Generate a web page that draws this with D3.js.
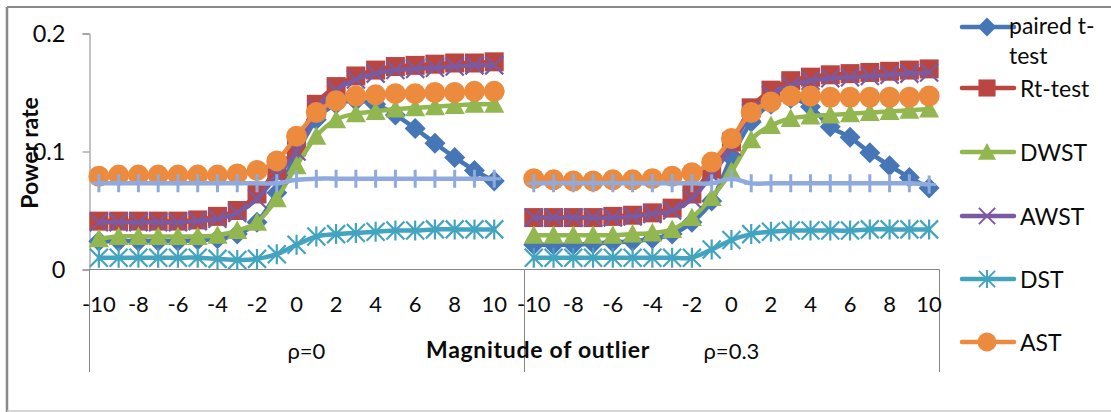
<!DOCTYPE html>
<html>
<head>
<meta charset="utf-8">
<script src="https://cdn.jsdelivr.net/npm/d3@7"></script>
<style>
  html, body { margin: 0; padding: 0; background: #fff; }
  svg { display: block; font-family: Lato, "Open Sans", sans-serif; }
</style>
</head>
<body>
<svg id="chart" width="1111" height="412"></svg>
<script>
// ---------------- DATA ----------------
const magnitudes = [-10,-9,-8,-7,-6,-5,-4,-3,-2,-1,0,1,2,3,4,5,6,7,8,9,10];
const groupLabels = ["ρ=0", "ρ=0.3"];
const tickLabels = ["-10","-8","-6","-4","-2","0","2","4","6","8","10"];
const yTicks = [0, 0.1, 0.2];
const yTickLabels = ["0", "0.1", "0.2"];
const seriesNames = ["paired t-test", "Rt-test", "DWST", "AWST", "DST", "AST", ""];

const pairedT_r0 = [0.024,0.024,0.024,0.024,0.024,0.025,0.026,0.030,0.040,0.065,0.098,0.127,0.140,0.143,0.140,0.131,0.1195,0.107,0.095,0.084,0.075];
const pairedT_r3 = [0.021,0.021,0.021,0.022,0.023,0.024,0.026,0.030,0.040,0.058,0.095,0.125,0.140,0.145,0.138,0.121,0.112,0.099,0.088,0.078,0.069];

const rtTest_r0 = [0.041,0.041,0.041,0.041,0.041,0.042,0.045,0.050,0.064,0.084,0.104,0.140,0.155,0.164,0.169,0.172,0.173,0.174,0.175,0.175,0.176];
const rtTest_r3 = [0.044,0.044,0.044,0.044,0.045,0.046,0.048,0.052,0.064,0.085,0.108,0.137,0.152,0.160,0.163,0.165,0.166,0.167,0.168,0.169,0.170];

const dwst_r0 = [0.026,0.028,0.028,0.028,0.028,0.028,0.029,0.033,0.040,0.060,0.088,0.113,0.127,0.132,0.134,0.136,0.137,0.138,0.139,0.140,0.140];
const dwst_r3 = [0.029,0.029,0.029,0.029,0.029,0.030,0.031,0.034,0.044,0.061,0.083,0.110,0.122,0.128,0.130,0.131,0.132,0.133,0.134,0.135,0.136];

const awst_r0 = [0.040,0.040,0.040,0.040,0.040,0.041,0.043,0.048,0.060,0.080,0.100,0.136,0.152,0.161,0.166,0.169,0.170,0.171,0.172,0.173,0.173];
const awst_r3 = [0.044,0.044,0.044,0.044,0.044,0.045,0.047,0.050,0.060,0.080,0.104,0.133,0.148,0.156,0.160,0.162,0.163,0.164,0.165,0.166,0.167];

const dst_r0 = [0.010,0.010,0.010,0.010,0.010,0.010,0.009,0.008,0.009,0.013,0.021,0.028,0.030,0.031,0.032,0.033,0.033,0.034,0.034,0.034,0.034];
const dst_r3 = [0.010,0.010,0.010,0.010,0.010,0.010,0.010,0.010,0.010,0.017,0.025,0.030,0.032,0.033,0.033,0.033,0.033,0.034,0.034,0.034,0.034];

const ast_r0 = [0.079,0.080,0.080,0.080,0.080,0.080,0.080,0.081,0.084,0.092,0.113,0.133,0.143,0.147,0.148,0.149,0.149,0.150,0.150,0.151,0.151];
const ast_r3 = [0.077,0.076,0.075,0.075,0.076,0.076,0.077,0.079,0.082,0.091,0.111,0.133,0.142,0.147,0.147,0.146,0.146,0.146,0.146,0.146,0.147];

const s7_r0 = [0.073,0.073,0.073,0.073,0.073,0.073,0.073,0.073,0.073,0.073,0.076,0.077,0.077,0.077,0.077,0.077,0.077,0.077,0.077,0.077,0.077];
const s7_r3 = [0.073,0.073,0.073,0.073,0.073,0.073,0.073,0.073,0.073,0.073,0.077,0.073,0.073,0.073,0.073,0.073,0.073,0.073,0.073,0.073,0.072];

// ---------------- STYLE ----------------
const colors = ["#4676B6", "#BA4642", "#93B750", "#7A5AA0", "#43A4C0", "#EC8A3E", "#8FAADC"];
const markers = ["diamond", "square", "triangle", "x", "star", "circle", "plus"];
const valuesBySeries = [
  [pairedT_r0, pairedT_r3],
  [rtTest_r0, rtTest_r3],
  [dwst_r0, dwst_r3],
  [awst_r0, awst_r3],
  [dst_r0, dst_r3],
  [ast_r0, ast_r3],
  [s7_r0, s7_r3]
];

// ---------------- SCALES ----------------
const keys = [];
magnitudes.forEach(m => keys.push("0|" + m));
keys.push("0|blank");
magnitudes.forEach(m => keys.push("1|" + m));

const x = d3.scaleBand().domain(keys).range([89, 939]).paddingInner(0).paddingOuter(0);
const cx = k => x(k) + x.bandwidth() / 2;
const y = d3.scaleLinear().domain([0, 0.2]).range([269.5, 33.5]);

const svg = d3.select("#chart");
const textColor = "#0a0a0a";

// chart border
svg.append("line").attr("x1", 7).attr("x2", 1111).attr("y1", 7).attr("y2", 7).attr("stroke", "#8a8a8a").attr("stroke-width", 2);
svg.append("line").attr("x1", 7).attr("x2", 7).attr("y1", 7).attr("y2", 412).attr("stroke", "#8a8a8a").attr("stroke-width", 2.5);
svg.append("line").attr("x1", 7).attr("x2", 1111).attr("y1", 411).attr("y2", 411).attr("stroke", "#c8c8c8").attr("stroke-width", 1.5);

// Y axis
const yAxis = d3.axisLeft(y).tickValues(yTicks).tickFormat((d, i) => yTickLabels[i]).tickSize(7).tickPadding(17);
const gy = svg.append("g").attr("transform", "translate(89.5,0)").call(yAxis);
gy.select(".domain").attr("stroke", "#868686").attr("stroke-width", 1);
gy.selectAll(".tick line").attr("stroke", "#868686");
gy.selectAll(".tick text").attr("font-size", 23.5).attr("fill", textColor).attr("font-family", "Lato, sans-serif");

// X axis line
svg.append("line").attr("x1", 89).attr("x2", 939.5).attr("y1", y(0)).attr("y2", y(0)).attr("stroke", "#868686");
// group dividers
const dividers = [x("0|-10"), x("1|-10"), 939];
dividers.forEach(d => {
  svg.append("line").attr("x1", Math.round(d) + 0.5).attr("x2", Math.round(d) + 0.5)
    .attr("y1", y(0)).attr("y2", 372).attr("stroke", "#868686");
});

// tick labels
[0, 1].forEach(g => {
  tickLabels.forEach(t => {
    svg.append("text").attr("x", cx(g + "|" + t)).attr("y", 312)
      .attr("text-anchor", "middle").attr("font-size", 22).attr("fill", textColor)
      .text(t);
  });
});
// group labels
svg.append("text").attr("x", (x("0|-10") + x("1|-10")) / 2).attr("y", 359)
  .attr("text-anchor", "middle").attr("font-size", 22).attr("fill", textColor).text(groupLabels[0]);
svg.append("text").attr("x", (x("1|-10") + 939) / 2).attr("y", 359)
  .attr("text-anchor", "middle").attr("font-size", 22).attr("fill", textColor).text(groupLabels[1]);

// axis titles
svg.append("text").attr("x", 538).attr("y", 358).attr("text-anchor", "middle")
  .attr("font-size", 23).attr("letter-spacing", 0.7).attr("font-weight", "bold").attr("fill", textColor).text("Magnitude of outlier");
svg.append("text").attr("transform", "translate(38,153) rotate(-90)").attr("text-anchor", "middle")
  .attr("font-size", 23).attr("font-weight", "bold").attr("fill", textColor).text("Power rate");

// ---------------- MARKERS ----------------
function drawMarker(g, type, color, px, py, scale) {
  const s = scale || 1;
  const t = `translate(${px},${py}) scale(${s})`;
  if (type === "diamond") {
    g.append("path").attr("d", "M0,-10.5L10.5,0L0,10.5L-10.5,0Z").attr("transform", t).attr("fill", color);
  } else if (type === "square") {
    g.append("path").attr("d", "M-9.5,-9.5H9.5V9.5H-9.5Z").attr("transform", t).attr("fill", color);
  } else if (type === "triangle") {
    g.append("path").attr("d", "M0,-10L10,8.5L-10,8.5Z").attr("transform", t).attr("fill", color);
  } else if (type === "x") {
    g.append("path").attr("d", "M-9,-9L9,9M9,-9L-9,9").attr("transform", t).attr("stroke", color).attr("stroke-width", 2.2).attr("fill", "none");
  } else if (type === "star") {
    g.append("path").attr("d", "M-9,-9L9,9M9,-9L-9,9M0,-10L0,10").attr("transform", t).attr("stroke", color).attr("stroke-width", 2.2).attr("fill", "none");
  } else if (type === "circle") {
    g.append("circle").attr("r", 10.5).attr("transform", t).attr("fill", color);
  } else if (type === "plus") {
    g.append("path").attr("d", "M0,-9L0,9M-7,0L7,0").attr("transform", t).attr("stroke", color).attr("stroke-width", 3).attr("fill", "none");
  }
}

// ---------------- SERIES ----------------
const line = d3.line().x(d => d.x).y(d => d.y).curve(d3.curveCardinal.tension(0));
const plot = svg.append("g");

valuesBySeries.forEach((groups, si) => {
  const g = plot.append("g");
  groups.forEach((vals, gi) => {
    const pts = vals.map((v, i) => ({ x: cx(gi + "|" + magnitudes[i]), y: y(v) }));
    g.append("path").attr("d", line(pts)).attr("fill", "none")
      .attr("stroke", colors[si]).attr("stroke-width", 4.5).attr("stroke-linejoin", "round").attr("stroke-linecap", "round");
    pts.forEach(p => drawMarker(g, markers[si], colors[si], p.x, p.y));
  });
});

// ---------------- LEGEND ----------------
const legendY = [27, 88, 152, 216, 279, 342];
const legend = svg.append("g");
seriesNames.slice(0, 6).forEach((name, i) => {
  const ly = legendY[i];
  legend.append("line").attr("x1", 962).attr("x2", 1014).attr("y1", ly).attr("y2", ly)
    .attr("stroke", colors[i]).attr("stroke-width", 4.5).attr("stroke-linecap", "round");
  drawMarker(legend, markers[i], colors[i], 987, ly, 0.9);
  if (i === 0) {
    const tx = legend.append("text").attr("font-size", 23).attr("fill", textColor);
    tx.append("tspan").attr("x", 1009).attr("y", 34).text("paired t-");
    tx.append("tspan").attr("x", 1009).attr("y", 64).text("test");
  } else {
    legend.append("text").attr("x", 1020).attr("y", ly + 9).attr("font-size", 23).attr("fill", textColor).text(name);
  }
});
</script>
</body>
</html>
